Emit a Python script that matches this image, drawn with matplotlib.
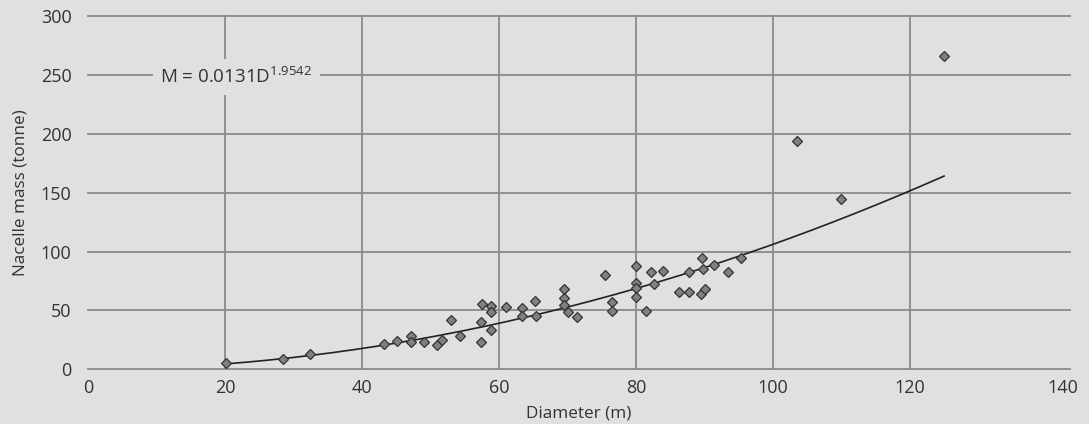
import matplotlib
matplotlib.use("Agg")
import numpy as np
import matplotlib.pyplot as plt

# Rotor diameter (m) and nacelle mass (tonne)
diameter = [
    20.1, 28.4, 32.4, 43.2, 45.1, 47.2, 47.2, 49.0, 51.0, 51.6, 53.0, 54.3,
    57.3, 57.4, 57.5, 58.9, 58.9, 58.9, 61.0, 63.3, 63.3, 65.3, 65.4,
    69.5, 69.5, 69.5, 70.1, 71.4, 75.5, 76.5, 76.5, 80.0, 80.0, 80.0, 80.0,
    81.5, 82.2, 82.7, 83.9, 86.3, 87.7, 87.7, 89.5, 90.1, 89.7, 89.8,
    91.4, 93.4, 95.3, 103.5, 109.9, 125.0,
]
mass = [
    5.3, 9.0, 13.4, 21.9, 23.7, 28.6, 22.8, 23.3, 20.7, 25.1, 41.5, 28.3,
    22.8, 40.2, 55.4, 54.1, 48.5, 33.6, 52.5, 51.9, 45.0, 57.9, 45.0,
    68.0, 60.3, 54.6, 48.5, 44.4, 79.9, 56.8, 49.6, 87.4, 73.4, 68.7, 61.6,
    49.6, 82.8, 72.4, 83.4, 65.3, 82.8, 65.3, 63.8, 68.5, 94.4, 85.1,
    88.4, 82.4, 94.4, 194.2, 144.7, 266.3,
]

# Power-law fit shown on the chart: M = a * D^b
fit_a = 0.0131
fit_b = 1.9542

x_ticks = [0, 20, 40, 60, 80, 100, 120, 140]
y_ticks = [0, 50, 100, 150, 200, 250, 300]

bg = "#e0e0e0"
grid_col = "#8a8a8a"
text_col = "#333333"

plt.rcParams["font.family"] = ["Open Sans", "DejaVu Sans"]
plt.rcParams["mathtext.fontset"] = "custom"
plt.rcParams["mathtext.rm"] = "Open Sans"

fig = plt.figure(figsize=(10.89, 4.24), dpi=100, facecolor=bg)
ax = fig.add_axes([0.081, 0.129, 0.9016, 0.8333])
ax.set_facecolor(bg)

ax.set_xlim(0, 143.4)
ax.set_ylim(0, 300)

# Gridlines (no line at x=0 or x=140)
for y in y_ticks:
    ax.axhline(y, color=grid_col, lw=1.3, zorder=1, clip_on=False)
for x in x_ticks[1:-1]:
    ax.plot([x, x], [0, 300], color=grid_col, lw=1.3, zorder=1, clip_on=False)

# Trend line over the data range
d_fit = np.linspace(min(diameter), max(diameter), 200)
ax.plot(d_fit, fit_a * d_fit ** fit_b, color="#222222", lw=1.2, zorder=3)

ax.plot(diameter, mass, linestyle="none", marker="D", markersize=5.2,
        markerfacecolor="#808080", markeredgecolor="#333333",
        markeredgewidth=0.9, zorder=4, clip_on=False)

ax.text(21.6, 248.5, r"M = 0.0131D$^{\mathregular{1.9542}}$", fontsize=13.5,
        color=text_col, ha="center", va="center", zorder=5,
        bbox=dict(boxstyle="square,pad=0.4", facecolor=bg, edgecolor="none"))

for s in ax.spines.values():
    s.set_visible(False)

# last label sits slightly right of its nominal spot in the original
x_pos = x_ticks[:-1] + [142.3]
ax.set_xticks(x_pos)
ax.set_xticklabels([str(v) for v in x_ticks])
ax.set_yticks(y_ticks)
ax.tick_params(axis="both", length=0, labelsize=13, colors=text_col)
ax.tick_params(axis="x", pad=7)
ax.tick_params(axis="y", pad=12)

ax.set_xlabel("Diameter (m)", fontsize=12.3, color=text_col, labelpad=6)
ax.set_ylabel("Nacelle mass (tonne)", fontsize=12.3, color=text_col, labelpad=9)

fig.savefig("out.png", dpi=100, facecolor=bg)
